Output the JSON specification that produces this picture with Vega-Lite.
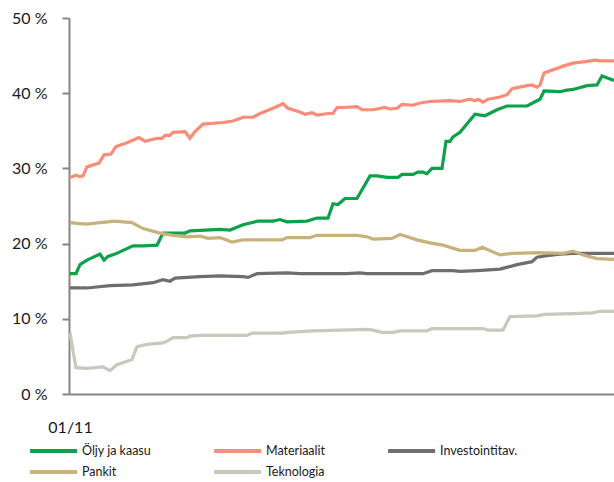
{
  "$schema": "https://vega.github.io/schema/vega-lite/v6.json",
  "width": 545,
  "height": 376,
  "autosize": "none",
  "padding": {"left": 69, "top": 18, "right": 0, "bottom": 88},
  "background": "white",
  "config": {"view": {"stroke": null}, "font": "Lato"},
  "data": {"values": [
{"s":"Öljy ja kaasu","t":0,"v":16.0},{"s":"Öljy ja kaasu","t":6,"v":16.0},{"s":"Öljy ja kaasu","t":10,"v":17.2},{"s":"Öljy ja kaasu","t":17,"v":17.8},{"s":"Öljy ja kaasu","t":30,"v":18.6},{"s":"Öljy ja kaasu","t":34,"v":17.8},{"s":"Öljy ja kaasu","t":38,"v":18.3},{"s":"Öljy ja kaasu","t":45,"v":18.6},{"s":"Öljy ja kaasu","t":63,"v":19.7},{"s":"Öljy ja kaasu","t":73,"v":19.7},{"s":"Öljy ja kaasu","t":87,"v":19.8},{"s":"Öljy ja kaasu","t":93,"v":21.4},{"s":"Öljy ja kaasu","t":115,"v":21.4},{"s":"Öljy ja kaasu","t":120,"v":21.7},{"s":"Öljy ja kaasu","t":150,"v":21.9},{"s":"Öljy ja kaasu","t":160,"v":21.8},{"s":"Öljy ja kaasu","t":173,"v":22.5},{"s":"Öljy ja kaasu","t":188,"v":23.0},{"s":"Öljy ja kaasu","t":203,"v":23.0},{"s":"Öljy ja kaasu","t":210,"v":23.2},{"s":"Öljy ja kaasu","t":217,"v":22.9},{"s":"Öljy ja kaasu","t":237,"v":23.0},{"s":"Öljy ja kaasu","t":247,"v":23.4},{"s":"Öljy ja kaasu","t":258,"v":23.4},{"s":"Öljy ja kaasu","t":263,"v":25.3},{"s":"Öljy ja kaasu","t":268,"v":25.2},{"s":"Öljy ja kaasu","t":275,"v":26.0},{"s":"Öljy ja kaasu","t":287,"v":26.0},{"s":"Öljy ja kaasu","t":300,"v":29.0},{"s":"Öljy ja kaasu","t":307,"v":29.0},{"s":"Öljy ja kaasu","t":317,"v":28.8},{"s":"Öljy ja kaasu","t":328,"v":28.8},{"s":"Öljy ja kaasu","t":332,"v":29.2},{"s":"Öljy ja kaasu","t":343,"v":29.2},{"s":"Öljy ja kaasu","t":348,"v":29.5},{"s":"Öljy ja kaasu","t":353,"v":29.5},{"s":"Öljy ja kaasu","t":357,"v":29.3},{"s":"Öljy ja kaasu","t":362,"v":30.0},{"s":"Öljy ja kaasu","t":372,"v":30.0},{"s":"Öljy ja kaasu","t":376,"v":33.6},{"s":"Öljy ja kaasu","t":380,"v":33.6},{"s":"Öljy ja kaasu","t":383,"v":34.2},{"s":"Öljy ja kaasu","t":390,"v":34.8},{"s":"Öljy ja kaasu","t":405,"v":37.2},{"s":"Öljy ja kaasu","t":415,"v":37.0},{"s":"Öljy ja kaasu","t":427,"v":37.8},{"s":"Öljy ja kaasu","t":437,"v":38.3},{"s":"Öljy ja kaasu","t":457,"v":38.3},{"s":"Öljy ja kaasu","t":467,"v":39.0},{"s":"Öljy ja kaasu","t":470,"v":39.2},{"s":"Öljy ja kaasu","t":474,"v":40.3},{"s":"Öljy ja kaasu","t":490,"v":40.2},{"s":"Öljy ja kaasu","t":497,"v":40.4},{"s":"Öljy ja kaasu","t":503,"v":40.5},{"s":"Öljy ja kaasu","t":517,"v":41.0},{"s":"Öljy ja kaasu","t":527,"v":41.1},{"s":"Öljy ja kaasu","t":532,"v":42.3},{"s":"Öljy ja kaasu","t":544,"v":41.7},
{"s":"Materiaalit","t":0,"v":28.8},{"s":"Materiaalit","t":6,"v":29.1},{"s":"Materiaalit","t":10,"v":28.9},{"s":"Materiaalit","t":13,"v":29.0},{"s":"Materiaalit","t":17,"v":30.2},{"s":"Materiaalit","t":29,"v":30.7},{"s":"Materiaalit","t":34,"v":31.8},{"s":"Materiaalit","t":41,"v":31.9},{"s":"Materiaalit","t":46,"v":32.9},{"s":"Materiaalit","t":57,"v":33.4},{"s":"Materiaalit","t":69,"v":34.1},{"s":"Materiaalit","t":75,"v":33.6},{"s":"Materiaalit","t":87,"v":34.0},{"s":"Materiaalit","t":92,"v":34.0},{"s":"Materiaalit","t":95,"v":34.4},{"s":"Materiaalit","t":100,"v":34.4},{"s":"Materiaalit","t":103,"v":34.8},{"s":"Materiaalit","t":115,"v":34.9},{"s":"Materiaalit","t":120,"v":34.0},{"s":"Materiaalit","t":125,"v":34.9},{"s":"Materiaalit","t":133,"v":35.9},{"s":"Materiaalit","t":153,"v":36.1},{"s":"Materiaalit","t":163,"v":36.3},{"s":"Materiaalit","t":173,"v":36.8},{"s":"Materiaalit","t":183,"v":36.8},{"s":"Materiaalit","t":190,"v":37.3},{"s":"Materiaalit","t":203,"v":38.0},{"s":"Materiaalit","t":213,"v":38.6},{"s":"Materiaalit","t":218,"v":38.0},{"s":"Materiaalit","t":230,"v":37.5},{"s":"Materiaalit","t":235,"v":37.2},{"s":"Materiaalit","t":242,"v":37.4},{"s":"Materiaalit","t":247,"v":37.1},{"s":"Materiaalit","t":258,"v":37.3},{"s":"Materiaalit","t":263,"v":37.3},{"s":"Materiaalit","t":267,"v":38.1},{"s":"Materiaalit","t":273,"v":38.1},{"s":"Materiaalit","t":287,"v":38.2},{"s":"Materiaalit","t":292,"v":37.8},{"s":"Materiaalit","t":303,"v":37.8},{"s":"Materiaalit","t":315,"v":38.1},{"s":"Materiaalit","t":320,"v":37.9},{"s":"Materiaalit","t":327,"v":38.0},{"s":"Materiaalit","t":332,"v":38.5},{"s":"Materiaalit","t":343,"v":38.4},{"s":"Materiaalit","t":350,"v":38.7},{"s":"Materiaalit","t":360,"v":38.9},{"s":"Materiaalit","t":380,"v":39.0},{"s":"Materiaalit","t":390,"v":38.9},{"s":"Materiaalit","t":400,"v":39.2},{"s":"Materiaalit","t":405,"v":39.0},{"s":"Materiaalit","t":408,"v":39.2},{"s":"Materiaalit","t":413,"v":38.8},{"s":"Materiaalit","t":418,"v":39.2},{"s":"Materiaalit","t":430,"v":39.5},{"s":"Materiaalit","t":437,"v":39.8},{"s":"Materiaalit","t":442,"v":40.6},{"s":"Materiaalit","t":457,"v":41.0},{"s":"Materiaalit","t":462,"v":41.1},{"s":"Materiaalit","t":467,"v":40.8},{"s":"Materiaalit","t":470,"v":41.1},{"s":"Materiaalit","t":474,"v":42.7},{"s":"Materiaalit","t":487,"v":43.3},{"s":"Materiaalit","t":493,"v":43.6},{"s":"Materiaalit","t":503,"v":44.0},{"s":"Materiaalit","t":515,"v":44.2},{"s":"Materiaalit","t":525,"v":44.4},{"s":"Materiaalit","t":530,"v":44.3},{"s":"Materiaalit","t":544,"v":44.3},
{"s":"Investointitav.","t":0,"v":14.1},{"s":"Investointitav.","t":17,"v":14.1},{"s":"Investointitav.","t":40,"v":14.4},{"s":"Investointitav.","t":63,"v":14.5},{"s":"Investointitav.","t":83,"v":14.8},{"s":"Investointitav.","t":93,"v":15.2},{"s":"Investointitav.","t":100,"v":15.0},{"s":"Investointitav.","t":105,"v":15.4},{"s":"Investointitav.","t":130,"v":15.6},{"s":"Investointitav.","t":150,"v":15.7},{"s":"Investointitav.","t":173,"v":15.6},{"s":"Investointitav.","t":178,"v":15.5},{"s":"Investointitav.","t":187,"v":16.0},{"s":"Investointitav.","t":217,"v":16.1},{"s":"Investointitav.","t":230,"v":16.0},{"s":"Investointitav.","t":277,"v":16.0},{"s":"Investointitav.","t":290,"v":16.1},{"s":"Investointitav.","t":297,"v":16.0},{"s":"Investointitav.","t":353,"v":16.0},{"s":"Investointitav.","t":362,"v":16.4},{"s":"Investointitav.","t":383,"v":16.4},{"s":"Investointitav.","t":390,"v":16.3},{"s":"Investointitav.","t":407,"v":16.4},{"s":"Investointitav.","t":430,"v":16.6},{"s":"Investointitav.","t":447,"v":17.2},{"s":"Investointitav.","t":462,"v":17.6},{"s":"Investointitav.","t":467,"v":18.2},{"s":"Investointitav.","t":477,"v":18.4},{"s":"Investointitav.","t":490,"v":18.6},{"s":"Investointitav.","t":503,"v":18.7},{"s":"Investointitav.","t":544,"v":18.7},
{"s":"Pankit","t":0,"v":22.8},{"s":"Pankit","t":7,"v":22.7},{"s":"Pankit","t":17,"v":22.6},{"s":"Pankit","t":30,"v":22.8},{"s":"Pankit","t":45,"v":23.0},{"s":"Pankit","t":62,"v":22.8},{"s":"Pankit","t":73,"v":22.0},{"s":"Pankit","t":90,"v":21.4},{"s":"Pankit","t":103,"v":21.1},{"s":"Pankit","t":117,"v":20.9},{"s":"Pankit","t":130,"v":21.0},{"s":"Pankit","t":138,"v":20.7},{"s":"Pankit","t":150,"v":20.8},{"s":"Pankit","t":162,"v":20.2},{"s":"Pankit","t":173,"v":20.5},{"s":"Pankit","t":212,"v":20.5},{"s":"Pankit","t":217,"v":20.8},{"s":"Pankit","t":240,"v":20.8},{"s":"Pankit","t":247,"v":21.1},{"s":"Pankit","t":287,"v":21.1},{"s":"Pankit","t":297,"v":20.9},{"s":"Pankit","t":303,"v":20.6},{"s":"Pankit","t":322,"v":20.7},{"s":"Pankit","t":330,"v":21.2},{"s":"Pankit","t":347,"v":20.5},{"s":"Pankit","t":360,"v":20.1},{"s":"Pankit","t":373,"v":19.8},{"s":"Pankit","t":390,"v":19.1},{"s":"Pankit","t":405,"v":19.1},{"s":"Pankit","t":412,"v":19.5},{"s":"Pankit","t":430,"v":18.5},{"s":"Pankit","t":443,"v":18.7},{"s":"Pankit","t":470,"v":18.8},{"s":"Pankit","t":493,"v":18.7},{"s":"Pankit","t":503,"v":19.0},{"s":"Pankit","t":513,"v":18.5},{"s":"Pankit","t":527,"v":18.0},{"s":"Pankit","t":544,"v":17.9},
{"s":"Teknologia","t":0,"v":8.1},{"s":"Teknologia","t":6,"v":3.5},{"s":"Teknologia","t":17,"v":3.4},{"s":"Teknologia","t":33,"v":3.6},{"s":"Teknologia","t":40,"v":3.1},{"s":"Teknologia","t":47,"v":3.9},{"s":"Teknologia","t":62,"v":4.6},{"s":"Teknologia","t":67,"v":6.3},{"s":"Teknologia","t":77,"v":6.6},{"s":"Teknologia","t":93,"v":6.8},{"s":"Teknologia","t":98,"v":7.1},{"s":"Teknologia","t":103,"v":7.5},{"s":"Teknologia","t":117,"v":7.5},{"s":"Teknologia","t":120,"v":7.7},{"s":"Teknologia","t":130,"v":7.8},{"s":"Teknologia","t":177,"v":7.8},{"s":"Teknologia","t":182,"v":8.1},{"s":"Teknologia","t":213,"v":8.1},{"s":"Teknologia","t":218,"v":8.2},{"s":"Teknologia","t":243,"v":8.4},{"s":"Teknologia","t":297,"v":8.6},{"s":"Teknologia","t":303,"v":8.5},{"s":"Teknologia","t":312,"v":8.2},{"s":"Teknologia","t":323,"v":8.2},{"s":"Teknologia","t":330,"v":8.4},{"s":"Teknologia","t":357,"v":8.4},{"s":"Teknologia","t":362,"v":8.7},{"s":"Teknologia","t":413,"v":8.7},{"s":"Teknologia","t":418,"v":8.5},{"s":"Teknologia","t":433,"v":8.5},{"s":"Teknologia","t":440,"v":10.3},{"s":"Teknologia","t":467,"v":10.4},{"s":"Teknologia","t":475,"v":10.6},{"s":"Teknologia","t":503,"v":10.7},{"s":"Teknologia","t":523,"v":10.8},{"s":"Teknologia","t":530,"v":11.0},{"s":"Teknologia","t":544,"v":11.0}
  ]},
  "mark": {"type": "line", "strokeWidth": 3.2, "clip": true},
  "encoding": {
    "x": {
      "field": "t", "type": "quantitative",
      "scale": {"domain": [-1, 544], "nice": false, "zero": false},
      "axis": {"title": null, "values": [0], "labelExpr": "'01/11'", "grid": false, "ticks": false,
               "domainColor": "#868686", "domainWidth": 2, "labelPadding": 25, "labelFontSize": 16,
               "labelColor": "#1a1a1a", "labelFont": "Lato", "labelFlush": false}
    },
    "y": {
      "field": "v", "type": "quantitative",
      "scale": {"domain": [0, 50], "nice": false},
      "axis": {"title": null, "values": [0, 10, 20, 30, 40, 50], "labelExpr": "datum.value + ' %'", "grid": false,
               "domainColor": "#868686", "domainWidth": 2, "tickColor": "#868686", "tickWidth": 2, "tickSize": 7,
               "labelPadding": 15, "labelFontSize": 16, "labelColor": "#1a1a1a", "labelFont": "Lato"}
    },
    "color": {
      "field": "s", "type": "nominal",
      "scale": {
        "domain": ["Öljy ja kaasu", "Materiaalit", "Investointitav.", "Pankit", "Teknologia"],
        "range": ["#0FA04A", "#FA8C78", "#6E6E6E", "#C8B27C", "#C8C8BC"]
      },
      "legend": {
        "title": null, "orient": "none", "legendX": -41, "legendY": 425, "direction": "horizontal", "columns": 3,
        "gridAlign": "each", "columnPadding": 54, "rowPadding": 5,
        "symbolType": "M-1,0H7", "symbolSize": 138, "symbolStrokeWidth": 4, "labelOffset": 38,
        "labelFontSize": 12.5, "labelFont": "Lato", "labelColor": "#1a1a1a", "labelLimit": 200
      }
    },
    "order": {"field": "t", "type": "quantitative"}
  }
}
